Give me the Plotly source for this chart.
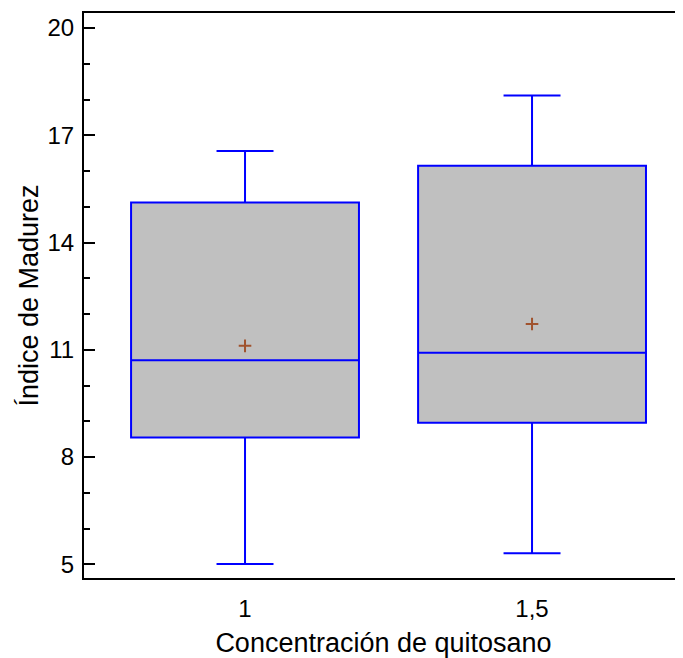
import plotly.graph_objects as go

categories = ["1", "1,5"]
q1 = [8.55, 8.96]
median = [10.71, 10.92]
q3 = [15.12, 16.15]
lower_whisker = [5.01, 5.31]
upper_whisker = [16.56, 18.11]
means = [11.11, 11.72]
y_ticks = [5, 8, 11, 14, 17, 20]

FONT = "Arial, Liberation Sans, sans-serif"

fig = go.Figure()
fig.add_trace(go.Box(
    x=categories,
    q1=q1, median=median, q3=q3,
    lowerfence=lower_whisker, upperfence=upper_whisker,
    fillcolor="#C0C0C0",
    line=dict(color="#0000FF", width=2),
    width=0.794,
    whiskerwidth=0.25,
    boxpoints=False,
    hoverinfo="skip",
    showlegend=False,
))
fig.add_trace(go.Scatter(
    x=categories, y=means, mode="markers",
    marker=dict(symbol="cross-thin", size=9, line=dict(color="#A0522D", width=2)),
    hoverinfo="skip", showlegend=False,
))
# invisible trace to carry right-side mirrored ticks
fig.add_trace(go.Scatter(x=categories, y=means, yaxis="y2", mode="markers",
                         marker=dict(opacity=0), hoverinfo="skip", showlegend=False))

yr = [4.617, 20.42]
fig.update_layout(
    width=675, height=650,
    margin=dict(l=76, r=0, t=5, b=80),
    paper_bgcolor="white", plot_bgcolor="white",
    font=dict(family=FONT, size=24, color="black"),
    xaxis=dict(
        type="category", range=[-0.561, 1.526], automargin=False,
        showline=True, linecolor="black", linewidth=2, mirror=True,
        ticks="", showgrid=False, zeroline=False,
        tickfont=dict(size=24), ticklabelstandoff=8,
        title=dict(text="Concentración de quitosano", font=dict(size=27), standoff=15),
    ),
    yaxis=dict(
        range=yr, tickvals=y_ticks, ticktext=[str(v) for v in y_ticks], automargin=False,
        showline=True, linecolor="black", linewidth=2,
        ticks="inside", ticklen=11, tickwidth=2, tickcolor="black",
        minor=dict(dtick=1, tick0=5, ticks="inside", ticklen=6, tickwidth=2, tickcolor="black"),
        showgrid=False, zeroline=False, tickfont=dict(size=24), ticklabelstandoff=3,
        title=dict(text="Índice de Madurez", font=dict(size=27), standoff=1),
    ),
    yaxis2=dict(
        overlaying="y", side="right", range=yr, tickvals=y_ticks, automargin=False,
        showticklabels=False, ticks="inside", ticklen=2, tickwidth=2, tickcolor="black",
        showline=False, showgrid=False, zeroline=False,
    ),
)
fig.write_html("out.html")
